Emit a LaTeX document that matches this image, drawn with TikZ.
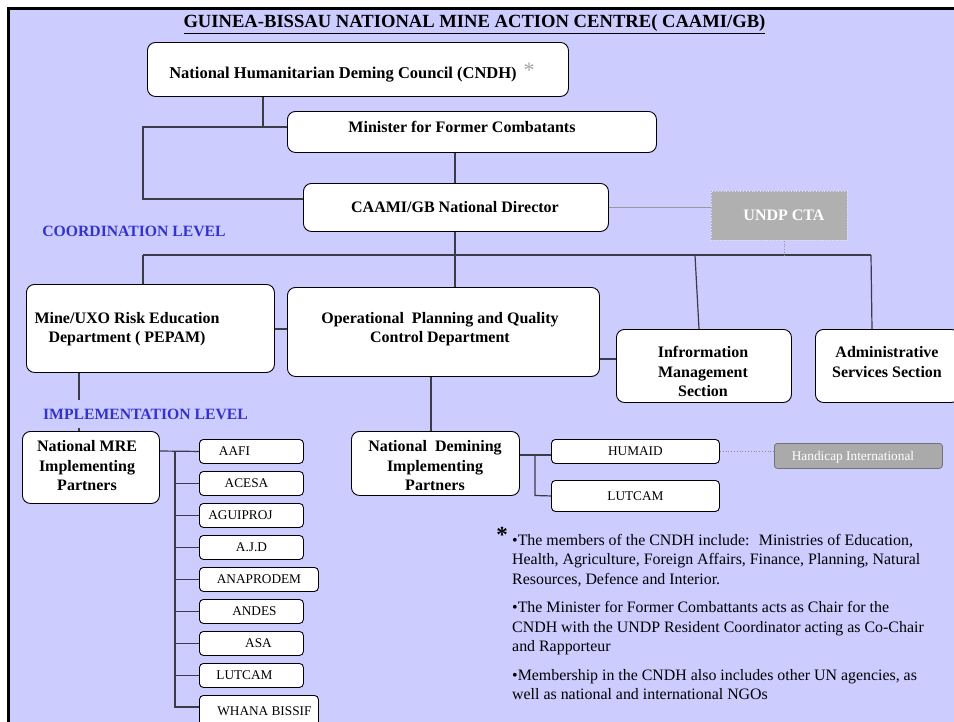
\documentclass[tikz,border=0pt]{standalone}
\usepackage{fontspec}
\setmainfont{Liberation Serif}
\definecolor{bg}{RGB}{204,204,255}
\definecolor{lvl}{RGB}{51,51,204}
\definecolor{ln}{RGB}{60,60,70}
\definecolor{gbox}{RGB}{176,176,176}
\definecolor{hbox}{RGB}{170,170,170}
\definecolor{ast}{RGB}{165,165,165}
\begin{document}
\begin{tikzpicture}[x=1pt,y=-1pt,
  box/.style={draw=black, line width=0.9pt, fill=white, rounded corners=8pt, inner sep=0pt, anchor=north west},
  bt/.style={align=center, font=\fontsize{16}{19.5}\selectfont\bfseries, inner sep=0pt},
  pbox/.style={draw=black, line width=0.9pt, fill=white, rounded corners=4pt, inner sep=0pt, anchor=north west, minimum height=24pt, font=\fontsize{13.3}{16}\selectfont},
  conn/.style={draw=ln, line width=1.2pt},
  lvltext/.style={text=lvl, font=\fontsize{15.7}{19}\selectfont\bfseries, inner sep=0pt},
  faint/.style={draw=black!40, line width=0.6pt},
  dots/.style={draw=black!45, line width=0.8pt, dotted}
]
\useasboundingbox (0,0) rectangle (954,721);
\fill[white] (0,0) rectangle (954,721);
\draw[fill=bg, line width=3pt] (8,8) rectangle (980,745);

% title
\node[font=\fontsize{18.6}{22}\selectfont\bfseries, inner sep=0pt] (title) at (474.5,24) {\underline{GUINEA-BISSAU NATIONAL MINE ACTION CENTRE( CAAMI/GB)}};

% top boxes
\node[box, minimum width=421pt, minimum height=54pt] (cndh) at (147,42) {};
\node[bt, font=\fontsize{16.5}{19.5}\selectfont\bfseries] (cndhT) at (352,73) {National Humanitarian Deming Council (CNDH)\hspace{7pt}\raisebox{1pt}{\textcolor{ast}{\fontsize{22}{22}\selectfont\mdseries *}}};
\node[box, minimum width=369pt, minimum height=41pt] (minister) at (287,111) {};
\node[bt] (ministerT) at (462,127) {Minister for Former Combatants};
\node[box, minimum width=305pt, minimum height=48pt] (director) at (303,183) {};
\node[bt] (directorT) at (455,207) {CAAMI/GB National Director};
\node[anchor=north west, minimum width=136pt, minimum height=49pt, inner sep=0pt, fill=gbox, draw=white!80!gray, dotted, line width=0.8pt] (undp) at (711,191) {};
\node[bt, text=white] (undpT) at (784,215) {UNDP CTA};

\node[lvltext] (coord) at (134,231) {COORDINATION LEVEL};

% connectors top
\coordinate (jA) at (263,127);
\coordinate (jB) at (143,127);
\coordinate (jC) at (143,199);
\coordinate (busL) at (143,255);
\coordinate (busM) at (455,255);
\coordinate (busR) at (871,255);
\coordinate (busU) at (784,255);
\draw[conn] (cndh.south -| jA) -- (jA);
\draw[conn] (minister.west |- jA) -- (jB) -- (jC) -- (director.west |- jC);
\draw[conn] (minister.south -| busM) -- (director.north -| busM);
\draw[conn] (director.south -| busM) -- (busM);
\draw[conn] (busL) -- (busR);
\draw[faint] (director.east) -- (undp.west |- director.east);
\draw[dots] (undp.south -| busU) -- (busU);

% second level boxes
\node[box, minimum width=248pt, minimum height=88pt] (pepam) at (26,284) {};
\node[bt] (pepamT) at (127,329) {Mine/UXO Risk Education\\Department ( PEPAM)};
\node[box, minimum width=312pt, minimum height=89pt] (op) at (287,287) {};
\node[bt] (opT) at (440,329) {Operational~ Planning and Quality\\Control Department};
\node[box, minimum width=175pt, minimum height=73pt] (info) at (616,329) {};
\node[bt] (infoT) at (703,371.5) {Infrormation\\Management\\Section};
\node[box, minimum width=144pt, minimum height=73pt] (admin) at (815,329) {};
\node[bt] (adminT) at (887,362) {Administrative\\Services Section};

\draw[conn] (busL) -- (pepam.north -| busL);
\draw[conn] (busM) -- (op.north -| busM);
\draw[conn] (695,255) -- (info.north -| 699,0);
\draw[conn] (busR) -- (admin.north -| 872,0);
\draw[conn] (pepam.east |- 0,329) -- (op.west |- 0,329);
\draw[conn] (op.east |- 0,359) -- (info.west |- 0,359);

% implementation level
\node[box, minimum width=137pt, minimum height=72pt] (mre) at (22,431) {};
\node[bt] (mreT) at (87,466) {National MRE\\Implementing\\Partners};
\draw[conn] (pepam.south -| 79,0) -- (mre.north -| 79,0);
\node[lvltext, fill=bg, minimum height=28pt] (impl) at (145.5,414) {IMPLEMENTATION LEVEL};

\node[pbox, minimum width=104pt] (p1) at (199,439) {AAFI\hspace*{34pt}};
\node[pbox, minimum width=104pt] (p2) at (199,471) {ACESA\hspace*{10pt}};
\node[pbox, minimum width=104pt] (p3) at (199,503) {AGUIPROJ\hspace*{22pt}};
\node[pbox, minimum width=104pt] (p4) at (199,535) {A.J.D};
\node[pbox, minimum width=119pt] (p5) at (199,567) {ANAPRODEM};
\node[pbox, minimum width=104pt] (p6) at (199,599) {\hspace*{6pt}ANDES};
\node[pbox, minimum width=104pt] (p7) at (199,631) {\hspace*{14pt}ASA};
\node[pbox, minimum width=104pt] (p8) at (199,663) {LUTCAM\hspace*{14pt}};
\node[pbox, minimum width=119pt, minimum height=32pt] (p9) at (199,695) {\hspace*{11pt}WHANA BISSIF};

\coordinate (trT) at (175,451);
\coordinate (trB) at (175,707);
\draw[conn] (mre.east |- trT) -- (p1.west);
\draw[conn] (trT) -- (trB) -- ([yshift=-12pt]p9.north west);
\foreach \p in {p2,p3,p4,p5,p6,p7,p8}{
  \draw[conn] (\p.west -| trT) -- (\p.west);
}

% deming partners
\node[box, minimum width=168pt, minimum height=64pt] (natdem) at (351,431) {};
\node[bt] (natdemT) at (435,466) {National~ Demining\\Implementing\\Partners};
\draw[conn] (op.south -| 431,0) -- (natdem.north -| 431,0);

\node[pbox, minimum width=168pt] (humaid) at (551,439) {HUMAID};
\node[pbox, minimum width=168pt, minimum height=31pt] (lutcam) at (551,480) {LUTCAM};
\coordinate (dT) at (535,455);
\coordinate (dB) at (535,495.5);
\draw[conn] (natdem.east |- dT) -- (humaid.west |- dT);
\draw[conn] (dT) -- (dB) -- (lutcam.west);

\node[anchor=north west, minimum width=168pt, minimum height=25pt, inner sep=0pt, fill=hbox, draw=black!55, line width=0.8pt, rounded corners=3pt] (hi) at (774,443) {};
\node[text=white, font=\fontsize{13.3}{16}\selectfont, inner sep=0pt] (hiT) at (853,457) {Handicap International};
\draw[dots] (humaid.east) -- (hi.west |- humaid.east);

% footnote
\node[font=\fontsize{23}{23}\selectfont\bfseries, inner sep=0pt] (bigast) at (502,535) {*};
\node[anchor=north west, align=left, inner sep=0pt, font=\fontsize{15.9}{19.3}\selectfont] (note) at (512,534) {%
\textbullet The members of the CNDH include:~ Ministries of Education,\\
Health, Agriculture, Foreign Affairs, Finance, Planning, Natural\\
Resources, Defence and Interior.\\[9.5pt]
\textbullet The Minister for Former Combattants acts as Chair for the\\
CNDH with the UNDP Resident Coordinator acting as Co-Chair\\
and Rapporteur\\[9.5pt]
\textbullet Membership in the CNDH also includes other UN agencies, as\\
well as national and international NGOs};
\end{tikzpicture}
\end{document}
